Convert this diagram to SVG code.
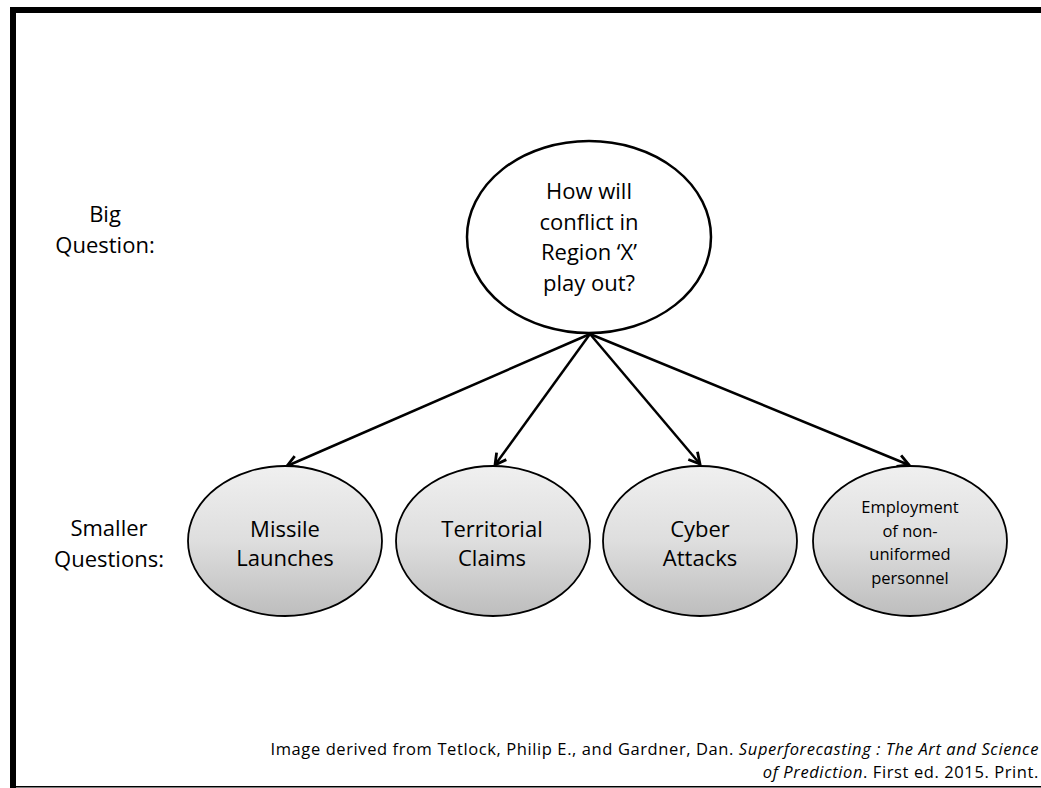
<svg xmlns="http://www.w3.org/2000/svg" width="1041" height="788" viewBox="0 0 1041 788">
<style>
text{font-family:"Open Sans","Noto Sans","Liberation Sans",sans-serif;fill:#000;text-anchor:middle}
.t22{font-size:22px}
.t17{font-size:16.5px}
.cite{font-size:16.5px;letter-spacing:0.6px;text-anchor:end}
.big{fill:#fff;stroke:#000;stroke-width:2.5}
.small{fill:url(#g);stroke:#000;stroke-width:1.8}
.conn line{stroke:#000;stroke-width:2.5;marker-end:url(#ah)}
</style>
<defs>
<linearGradient id="g" x1="0" y1="0" x2="0" y2="1">
<stop offset="0" stop-color="#f0f0f0"/>
<stop offset="0.5" stop-color="#dedede"/>
<stop offset="1" stop-color="#bdbdbd"/>
</linearGradient>
<marker id="ah" markerUnits="userSpaceOnUse" markerWidth="16" markerHeight="16" viewBox="0 0 16 16" refX="14" refY="8" orient="auto">
<path d="M3,2 L14,8 L3,14" fill="none" stroke="#000" stroke-width="2.8" stroke-linejoin="miter"/>
</marker>
</defs>
<rect x="0" y="0" width="1041" height="788" fill="#fff"/>
<g id="frame">
<rect x="10" y="7" width="1031" height="6" fill="#000"/>
<rect x="10" y="7" width="6" height="781" fill="#000"/>
<rect x="10" y="786" width="1031" height="1.5" fill="#000"/>
</g>
<g id="labels">
<text class="t22" x="105" y="222">Big</text>
<text class="t22" x="105" y="253">Question:</text>
<text class="t22" x="109" y="536">Smaller</text>
<text class="t22" x="109" y="567">Questions:</text>
</g>
<g class="conn" id="connectors">
<line x1="590" y1="334" x2="287" y2="466"/>
<line x1="590" y1="334" x2="495" y2="465"/>
<line x1="590" y1="334" x2="700" y2="464"/>
<line x1="590" y1="334" x2="909" y2="465"/>
</g>
<g id="big-question">
<ellipse class="big" cx="589" cy="237" rx="122" ry="96"/>
<text class="t22" x="589" y="199">How will</text>
<text class="t22" x="589" y="230">conflict in</text>
<text class="t22" x="589" y="260">Region ‘X’</text>
<text class="t22" x="589" y="291">play out?</text>
</g>
<g id="missile">
<ellipse class="small" cx="285" cy="541" rx="97" ry="75"/>
<text class="t22" x="285" y="537">Missile</text>
<text class="t22" x="285" y="566">Launches</text>
</g>
<g id="territorial">
<ellipse class="small" cx="493" cy="541" rx="97" ry="75"/>
<text class="t22" x="492" y="537">Territorial</text>
<text class="t22" x="492" y="566">Claims</text>
</g>
<g id="cyber">
<ellipse class="small" cx="700" cy="541" rx="97" ry="75"/>
<text class="t22" x="700" y="537">Cyber</text>
<text class="t22" x="700" y="566">Attacks</text>
</g>
<g id="employment">
<ellipse class="small" cx="910" cy="541" rx="97" ry="75"/>
<text class="t17" x="910" y="513">Employment</text>
<text class="t17" x="910" y="537">of non-</text>
<text class="t17" x="910" y="560">uniformed</text>
<text class="t17" x="910" y="584">personnel</text>
</g>
<g id="citation">
<text class="cite" x="1039" y="755">Image derived from Tetlock, Philip E., and Gardner, Dan. <tspan font-style="italic">Superforecasting : The Art and Science</tspan></text>
<text class="cite" x="1039" y="778"><tspan font-style="italic">of Prediction</tspan>. First ed. 2015. Print.</text>
</g>
</svg>
